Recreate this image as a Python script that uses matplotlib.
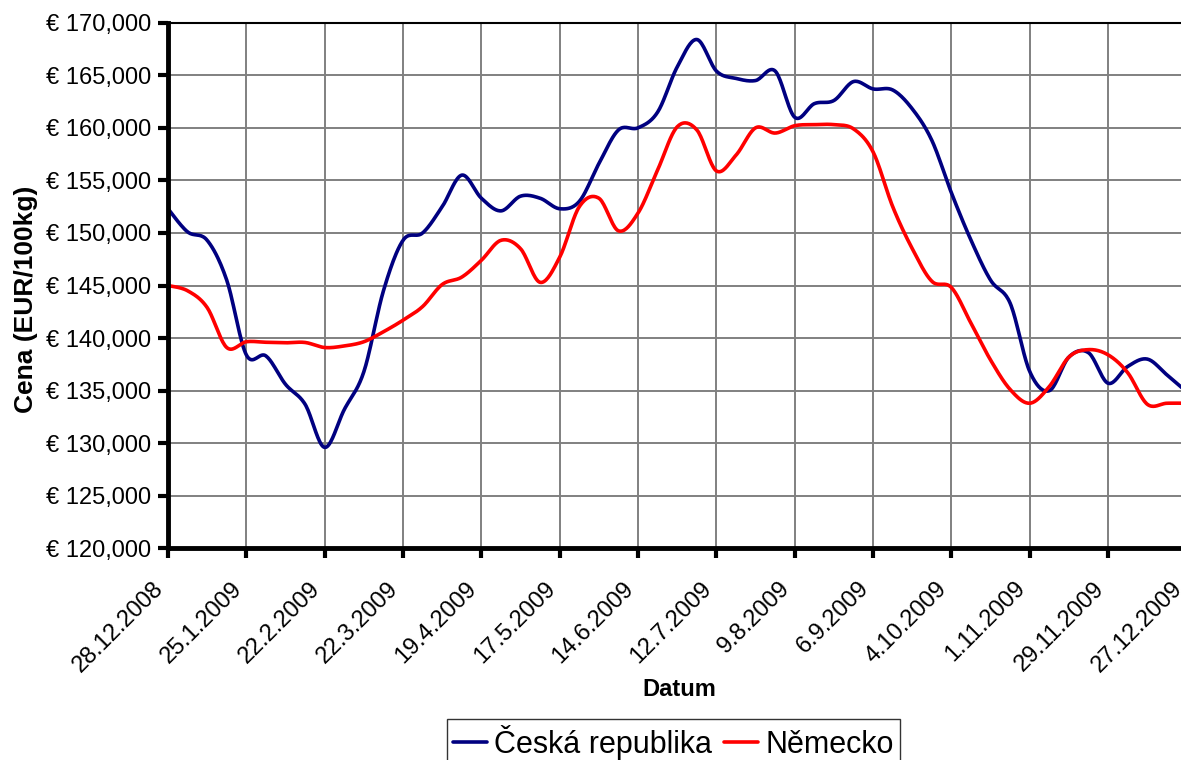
import numpy as np
import pandas as pd
import matplotlib
matplotlib.use("Agg")
import matplotlib.pyplot as plt
import matplotlib.dates as mdates
from matplotlib.ticker import FuncFormatter

plt.rcParams['font.family'] = ['Liberation Sans', 'DejaVu Sans']

# weekly prices (EUR/100kg), 28.12.2008 .. 27.12.2009
dates = pd.date_range("2008-12-28", periods=53, freq="7D")

cesko = [152300, 150100, 149300, 145500, 138400, 138300, 135600, 133700, 129600, 133200,
         136800, 144500, 149300, 150000, 152500, 155500, 153300, 152100, 153500, 153300,
         152300, 153000, 156600, 159800, 160000, 161500, 165800, 168400, 165400, 164700,
         164500, 165400, 161000, 162300, 162600, 164400, 163700, 163600, 161800, 158800,
         153800, 149300, 145500, 143300, 136800, 135000, 138200, 138600, 135700, 137300,
         138000, 136500, 134900]

nemecko = [145000, 144500, 142900, 139100, 139650, 139600, 139550, 139580, 139100, 139250,
           139650, 140600, 141700, 143000, 145100, 145800, 147400, 149300, 148500, 145300,
           147700, 152500, 153300, 150200, 151900, 156000, 160100, 159800, 155900, 157400,
           160000, 159500, 160200, 160300, 160300, 159900, 157700, 152500, 148500, 145400,
           144800, 141400, 137900, 135100, 133800, 135400, 138200, 138900, 138400, 136700,
           133700, 133800, 133800]

series_names = ["Česká republika", "Německo"]
series_colors = ["#000080", "#FF0000"]


def smooth(x, y, n=20):
    # Excel-style smoothed line (Catmull-Rom bezier through the points)
    x = np.asarray(x, dtype=float)
    y = np.asarray(y, dtype=float)
    px = np.concatenate([[x[0]], x, [x[-1]]])
    py = np.concatenate([[y[0]], y, [y[-1]]])
    t = np.linspace(0, 1, n, endpoint=False)[:, None]
    xs, ys = [], []
    for i in range(1, len(px) - 2):
        p0 = np.array([px[i], py[i]])
        p3 = np.array([px[i + 1], py[i + 1]])
        p1 = p0 + (p3 - np.array([px[i - 1], py[i - 1]])) / 6
        p2 = p3 - (np.array([px[i + 2], py[i + 2]]) - p0) / 6
        pts = ((1 - t) ** 3 * p0 + 3 * (1 - t) ** 2 * t * p1
               + 3 * (1 - t) * t ** 2 * p2 + t ** 3 * p3)
        xs.append(pts[:, 0])
        ys.append(pts[:, 1])
    xs.append([x[-1]])
    ys.append([y[-1]])
    return np.concatenate(xs), np.concatenate(ys)


fig = plt.figure(figsize=(11.81, 7.6), dpi=100)
ax = fig.add_axes([168 / 1181, 1 - 548.3 / 760, 1018.5 / 1181, 525.6 / 760])

xnum = mdates.date2num(dates)
for vals, name, col in zip([cesko, nemecko], series_names, series_colors):
    sx, sy = smooth(xnum, vals)
    ax.plot(sx, sy, color=col, lw=2.6, label=name, solid_capstyle='round')

ax.set_ylim(120000, 170000)
ax.set_yticks(np.arange(120000, 170001, 5000))
ax.yaxis.set_major_formatter(FuncFormatter(lambda v, p: f"€ {v:,.0f}"))

ticks = xnum[::4]
ax.set_xlim(xnum[0], xnum[-1])
ax.set_xticks(ticks)
ax.set_xticklabels([f"{d.day}.{d.month}.{d.year}" for d in dates[::4]],
                   rotation=45, ha='right', va='top', rotation_mode='default')

ax.grid(True, color='#808080', lw=1.4)
ax.set_axisbelow(True)
ax.tick_params(axis='both', labelsize=17, width=3, length=7, color='black', pad=5)
ax.tick_params(axis='x', pad=14)

for s in ['left', 'bottom']:
    ax.spines[s].set_linewidth(3.5)
ax.spines['top'].set_linewidth(1.5)
ax.spines['right'].set_visible(False)

ax.set_ylabel("Cena (EUR/100kg)", fontsize=19, fontweight='bold')
ax.yaxis.set_label_coords(-0.128, 0.474)
fig.text(679 / 1181, 1 - 690 / 760, "Datum", fontsize=17, fontweight='bold',
         ha='center', va='center')

leg = fig.legend(loc='upper center', bbox_to_anchor=(673.5 / 1181, 1 - 719 / 760),
                 ncol=2, fontsize=22, frameon=True, fancybox=False, edgecolor='black',
                 handlelength=1.1, handletextpad=0.25, columnspacing=0.4,
                 borderpad=0.2, borderaxespad=0)
leg.get_frame().set_linewidth(1.0)

fig.savefig("out.png", dpi=100)
